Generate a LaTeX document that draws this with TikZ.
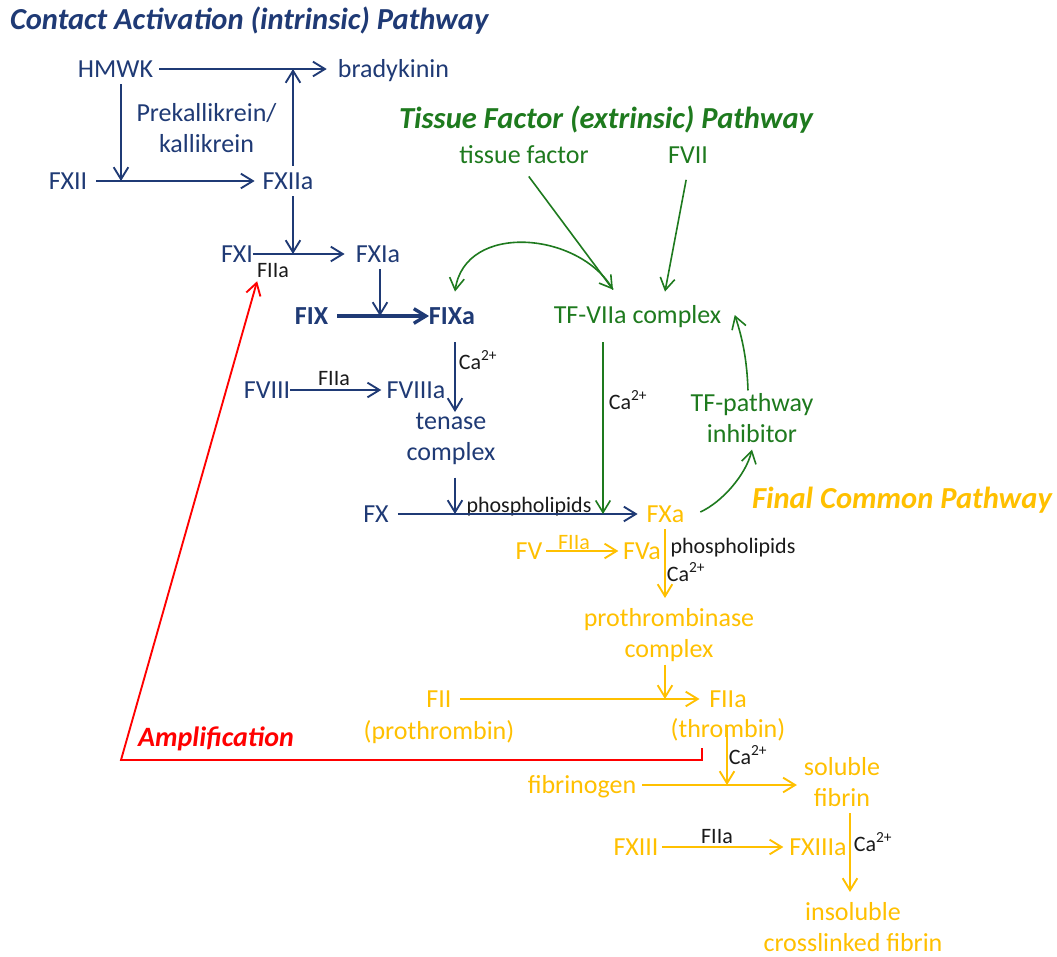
\documentclass[tikz,border=0pt]{standalone}
\usepackage{fontspec}
\setmainfont{Carlito}
\usetikzlibrary{arrows.meta}
\definecolor{navy}{HTML}{1F3A75}
\definecolor{tfgreen}{HTML}{1E7A1E}
\definecolor{amber}{HTML}{FFC000}
\definecolor{inkc}{HTML}{1A1A1A}
\definecolor{ampred}{HTML}{FF0000}
\newcommand\lnst{\rule[-0.256em]{0pt}{1.156em}}
\newcommand\lnsttop{\rule{0pt}{0.9em}}
\begin{document}
\begin{tikzpicture}[x=0.75pt,y=-0.75pt,
  every node/.style={inner sep=0pt, outer sep=0pt},
  lbase/.style={font=\fontsize{19.5}{23.25}\selectfont, text height=17.55pt, text depth=4.99pt},
  mbase/.style={font=\fontsize{19.5}{23.25}\selectfont, align=center},
  nl/.style={lbase, text=navy}, gl/.style={lbase, text=tfgreen}, yl/.style={lbase, text=amber},
  nm/.style={mbase, text=navy}, gm/.style={mbase, text=tfgreen}, ym/.style={mbase, text=amber},
  smlab/.style={font=\fontsize{16.5}{19}\selectfont, text height=12.3pt, text depth=3pt, text=inkc},
  ttl/.style={font=\fontsize{22.9}{27}\selectfont\bfseries\itshape, text height=20.6pt, text depth=5.86pt},
  ampttl/.style={font=\fontsize{21}{25}\selectfont\bfseries\itshape, text height=18.9pt, text depth=5.38pt, text=ampred},
  vhead/.style={-{Straight Barb[length=9pt,width=11pt]}},
  narr/.style={draw=navy, line width=1.4pt, vhead},
  garr/.style={draw=tfgreen, line width=1.2pt, vhead},
  yarr/.style={draw=amber, line width=1.4pt, vhead},
  rarr/.style={draw=ampred, line width=1.4pt, vhead, line join=miter},
]
\fill[white] (0,0) rectangle (1057,957);
\useasboundingbox (0,0) rectangle (1057,957);

% ---------- contact activation (intrinsic) pathway ----------
\node[ttl, text=navy, anchor=west] (t1) at (10,20) {Contact Activation (intrinsic) Pathway};
\node[nl] (HMWK) at (115.5,69) {HMWK};
\node[nl] (brady) at (393.5,69) {bradykinin};
\node[nm] (prek) at (206.5,128.5) {\lnst Prekallikrein/\\\lnst kallikrein};
\node[nl] (FXII) at (68,181) {FXII};
\node[nl] (FXIIa) at (288,181) {FXIIa};
\node[nl] (FXI) at (237,254) {FXI};
\node[smlab] (FIIa1) at (273,271) {FIIa};
\node[nl] (FXIa) at (378,254) {FXIa};
\node[nl] (FIX) at (311.5,316) {\textbf{FIX}};
\node[nl] (FIXa) at (452,316) {\textbf{FIXa}};
\node[smlab] (Ca1) at (478,363) {Ca\textsuperscript{2+}};
\node[nl] (FVIII) at (267,390) {FVIII};
\node[smlab] (FIIa2) at (334,379) {FIIa};
\node[nl] (FVIIIa) at (416,390) {FVIIIa};
\node[nm] (tenase) at (451,437) {\lnst tenase\\\lnst complex};
\node[nl] (FX) at (376,514) {FX};
\node[smlab] (phos1) at (529,506) {phospholipids};

% ---------- tissue factor (extrinsic) pathway ----------
\node[ttl, text=tfgreen] (t2) at (606,119) {Tissue Factor (extrinsic) Pathway};
\node[gl] (tf) at (524,155) {tissue factor};
\node[gl] (FVII) at (688,155) {FVII};
\node[gl] (TFVIIa) at (637.5,315) {TF-VIIa complex};
\node[smlab] (Ca2) at (628,403) {Ca\textsuperscript{2+}};
\node[gm] (TFPI) at (752,419) {\lnst TF-pathway\\\lnst inhibitor};

% ---------- final common pathway ----------
\node[ttl, text=amber, anchor=west] (t3) at (752,499) {Final Common Pathway};
\node[yl] (FXa) at (665.5,514) {FXa};
\node[yl] (FV) at (529,551) {FV};
\node[smlab, text=amber] (FIIa3) at (574,543) {FIIa};
\node[yl] (FVa) at (642,551) {FVa};
\node[smlab] (phos2) at (733,547) {phospholipids};
\node[smlab] (Ca3) at (686,575) {Ca\textsuperscript{2+}};
\node[ym] (pro) at (669,634) {\lnst prothrombinase\\\lnst complex};
\node[yl] (FII) at (439,699) {FII};
\node[yl] (FIIp) at (439,731) {(prothrombin)};
\node[yl] (FIIa) at (728,699) {FIIa};
\node[yl] (FIIat) at (728,729) {(thrombin)};
\node[smlab] (Ca4) at (748,758) {Ca\textsuperscript{2+}};
\node[yl] (fib) at (582,785) {fibrinogen};
\node[ym] (sol) at (842,782.5) {\lnst soluble\\\lnst fibrin};
\node[yl] (FXIII) at (636,847) {FXIII};
\node[smlab] (FIIa4) at (717,837) {FIIa};
\node[yl] (FXIIIa) at (818,847) {FXIIIa};
\node[smlab] (Ca5) at (873,845) {Ca\textsuperscript{2+}};
\node[ym] (ins) at (853,924) {\lnst insoluble\\\lnsttop crosslinked fibrin};

\node[ampttl] (amp) at (216,737) {Amplification};

% ---------- junction points ----------
\coordinate (j1) at (121,181);
\coordinate (j2) at (293,69);
\coordinate (j3) at (293,254);
\coordinate (j4) at (380,316);
\coordinate (j5) at (455,412);
\coordinate (j6) at (455,514);
\coordinate (j7) at (603,514);
\coordinate (j9) at (665,598);
\coordinate (j10) at (665,699);
\coordinate (j11) at (727,785);
\coordinate (j12) at (850,892);
\coordinate (ampStart) at (702,748);
\coordinate (ampCorner) at (121,760);
\coordinate (tfTip) at ([shift={(-24.5,-10.4)}]TFVIIa.north);
\coordinate (fviiTip) at ([shift={(27.5,-8.4)}]TFVIIa.north);

% ---------- intrinsic connectors ----------
\draw[narr, shorten <=4.5pt, shorten >=8.4pt] (HMWK.east) -- (brady.west);
\draw[narr] (HMWK.south -| j1) -- (j1);
\draw[narr, shorten <=7pt, shorten >=6pt] (FXII.east) -- (FXIIa.west);
\draw[narr] (FXIIa.north -| j2) -- (j2);
\draw[narr] (FXIIa.south -| j3) -- (j3);
\draw[narr, shorten >=8.5pt] (FXI.east) -- (FXIa.west);
\draw[narr] (FXIa.south -| j4) -- (j4);
\draw[narr, line width=2.5pt, shorten <=7pt] (FIX.east) -- (FIXa.west);
\draw[narr, shorten <=8.5pt] (FIXa.south -| j5) -- (j5);
\draw[narr, shorten >=4pt] (FVIII.east) -- (FVIIIa.west);
\draw[narr, shorten <=7.5pt] (tenase.south -| j6) -- (j6);
\draw[narr, shorten <=7pt, shorten >=6.8pt] (FX.east) -- (FXa.west);

% ---------- extrinsic connectors ----------
\draw[garr, shorten <=6pt] (tf.south) -- (tfTip);
\draw[garr, shorten <=7.5pt] (FVII.south) -- (fviiTip);
\draw[garr] (tfTip) .. controls +(-33,-58) and +(10,-70) .. ([shift={(3,-9.4)}]FIXa.north);
\draw[garr, shorten <=9pt] (TFVIIa.south -| j7) -- (j7);
\draw[garr] ([shift={(-4,2)}]TFPI.north) .. controls +(-1,-30) and +(8,24) .. ([shift={(13.5,0)}]TFVIIa.east);
\draw[garr] ([shift={(16,-2)}]FXa.east) .. controls +(22,-10) and +(-6,25) .. (TFPI.south);

% ---------- common pathway connectors ----------
\draw[yarr, shorten <=3pt, shorten >=3.6pt] (FV.east) -- (FVa.west);
\draw[yarr] (FXa.south -| j9) -- (j9);
\draw[yarr] (pro.south -| j10) -- (j10);
\draw[yarr, shorten <=6.6pt, shorten >=7.3pt] (FII.east) -- (FIIa.west);
\draw[yarr, shorten <=-3pt] (FIIat.center -| j11) -- (j11);
\draw[yarr, shorten <=4.5pt, shorten >=5.3pt] (fib.east) -- (fib.east -| sol.west);
\draw[yarr] (sol.south -| j12) -- (j12);
\draw[yarr, shorten <=3pt, shorten >=4.5pt] (FXIII.east) -- (FXIIIa.west);

% ---------- amplification loop ----------
\draw[rarr] (ampStart) |- (ampCorner) -- (FIIa1.south west);
\end{tikzpicture}
\end{document}
